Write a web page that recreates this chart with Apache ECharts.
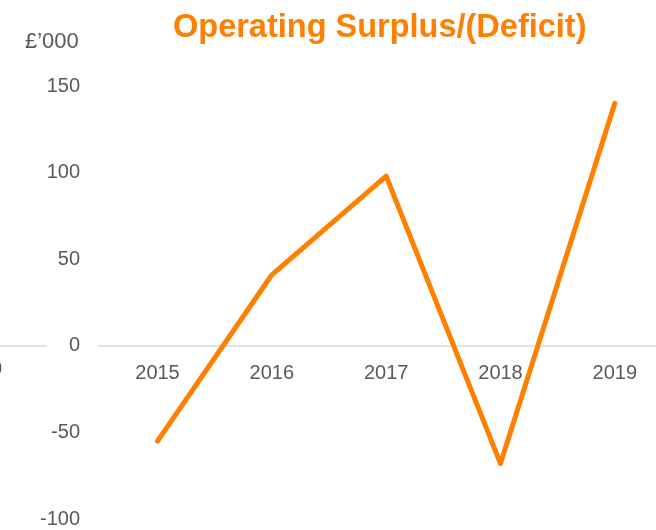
<!DOCTYPE html>
<html>
<head>
<meta charset="utf-8">
<script src="https://cdn.jsdelivr.net/npm/echarts@6/dist/echarts.min.js"></script>
<style>
  html, body { margin: 0; padding: 0; background: #fff; }
  #chart { width: 656px; height: 530px; }
</style>
</head>
<body>
<div id="chart"></div>
<script>
// data (£'000)
var years = ['2015', '2016', '2017', '2018', '2019'];
var surplus = [-55, 41, 98, -68, 140];
var yTicks = { min: -100, max: 150, step: 50 };

// one blank slot before 2015 so the axis runs on to the left edge
var axisCats = [''].concat(years);
var lineData = [null].concat(surplus);

var orange = '#ff7f00';
var grey = '#595959';

var chart = echarts.init(document.getElementById('chart'));
chart.setOption({
  animation: false,
  title: {
    text: 'Operating Surplus/(Deficit)',
    left: 173,
    top: 12,
    padding: 0,
    textStyle: {
      color: orange,
      fontFamily: 'Liberation Sans',
      fontWeight: 'bold',
      fontSize: 32.5
    }
  },
  grid: {
    left: -14, right: -16, top: 86, bottom: 11,
    containLabel: false,
    outerBoundsMode: 'none'
  },
  xAxis: {
    type: 'category',
    data: axisCats,
    boundaryGap: true,
    position: 'bottom',
    offset: -173, // labels sit under the zero line, not at the grid bottom
    axisLine: { onZero: false, lineStyle: { color: '#d9d9d9', width: 1.5 } },
    axisTick: { show: false },
    axisLabel: {
      color: grey,
      fontFamily: 'Liberation Sans',
      fontSize: 20,
      margin: 17
    },
    splitLine: { show: false }
  },
  yAxis: {
    type: 'value',
    z: 5,
    min: yTicks.min,
    max: yTicks.max,
    interval: yTicks.step,
    name: '£’000',
    nameLocation: 'end',
    nameGap: 33,
    nameTextStyle: {
      color: grey,
      fontFamily: 'Liberation Sans',
      fontSize: 22,
      align: 'left',
      padding: [0, 0, 0, 39]
    },
    axisLine: { show: false },
    axisTick: { show: false },
    splitLine: { show: false },
    axisLabel: {
      inside: true,
      align: 'right',
      margin: 112,
      color: grey,
      fontFamily: 'Liberation Sans',
      fontSize: 20,
      backgroundColor: '#fff',
      padding: [0, 18, 0, 22]
    }
  },
  graphic: [{
    type: 'text',
    left: -9,
    top: 359,
    style: { text: '0', fill: grey, font: '20px "Liberation Sans"' }
  }],
  series: [{
    type: 'line',
    data: lineData,
    symbol: 'none',
    lineStyle: { color: orange, width: 5, cap: 'round', join: 'round' },
    itemStyle: { color: orange }
  }]
});
</script>
</body>
</html>
